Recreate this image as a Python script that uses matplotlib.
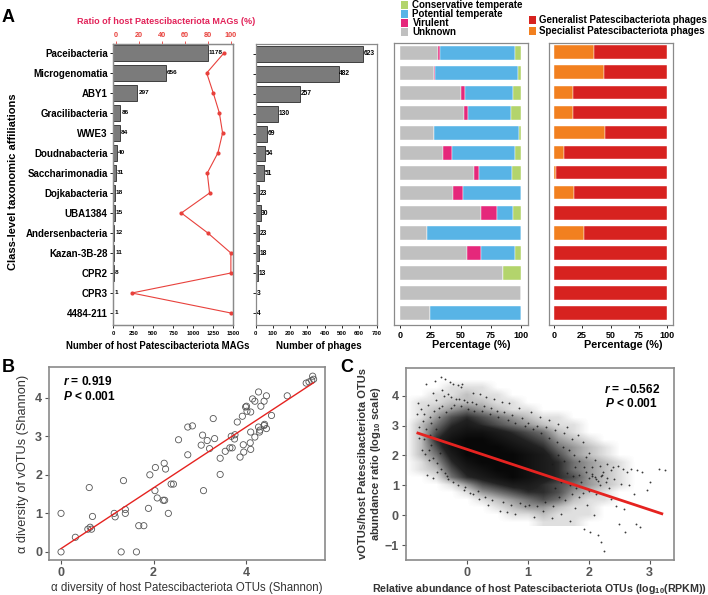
import numpy as np
import matplotlib
matplotlib.use('Agg')
import matplotlib.pyplot as plt
from matplotlib.patches import Rectangle
from matplotlib.colors import LinearSegmentedColormap

plt.rcParams['font.family'] = ['Liberation Sans', 'DejaVu Sans']
plt.rcParams['mathtext.fontset'] = 'custom'
plt.rcParams['mathtext.rm'] = 'Liberation Sans:bold'
plt.rcParams['mathtext.it'] = 'Liberation Sans:italic:bold'
plt.rcParams['mathtext.bf'] = 'Liberation Sans:bold'

# ---------------- data: panel A ----------------
categories = ['Paceibacteria', 'Microgenomatia', 'ABY1', 'Gracilibacteria', 'WWE3',
              'Doudnabacteria', 'Saccharimonadia', 'Dojkabacteria', 'UBA1384',
              'Andersenbacteria', 'Kazan-3B-28', 'CPR2', 'CPR3', '4484-211']
host_mags = [1178, 656, 297, 86, 84, 40, 31, 18, 15, 12, 11, 8, 1, 1]
host_ratio = [94, 79, 84.7, 90, 92.8, 88.7, 79.5, 81.5, 57, 80, 100, 100, 14, 100]
n_phages = [623, 482, 257, 130, 69, 54, 51, 23, 30, 23, 18, 13, 3, 4]
pct_unknown = [31.5, 27.9, 50.6, 53.0, 27.6, 35.4, 61.0, 43.6, 66.9, 21.8, 55.5, 84.8, 100, 24.9]
pct_virulent = [1.4, 0.6, 2.7, 3.0, 0.0, 7.4, 4.0, 8.6, 13.2, 0.0, 11.4, 0.0, 0.0, 0.0]
pct_potential = [62.1, 68.7, 40.1, 35.7, 71.0, 52.0, 27.5, 47.8, 13.3, 78.2, 27.9, 0.0, 0.0, 75.1]
pct_conservative = [5.0, 2.8, 6.6, 8.3, 1.4, 5.2, 7.5, 0.0, 6.6, 0.0, 5.2, 15.2, 0.0, 0.0]
pct_specialist = [35.8, 44.0, 17.0, 17.0, 45.2, 9.4, 2.0, 17.6, 0.0, 26.4, 0.0, 0.0, 0.0, 0.0]
pct_generalist = [100 - v for v in pct_specialist]

# ---------------- data: panel B ----------------
b_points = [(0, 1.0), (0, 0), (0.31, 0.38), (0.58, 0.59), (0.63, 0.64), (0.66, 0.59),
            (0.61, 1.67), (0.68, 0.92), (1.15, 1.0), (1.17, 0.91), (1.35, 1.85),
            (1.39, 1.1), (1.39, 1.0), (1.30, 0), (1.63, 0), (1.68, 0.68), (1.79, 0.68),
            (1.89, 1.13), (1.92, 2.0), (2.04, 2.19), (2.03, 1.59), (2.08, 1.40),
            (2.21, 1.34), (2.24, 1.34), (2.23, 2.30), (2.26, 2.15), (2.32, 1.0),
            (2.38, 1.76), (2.43, 1.76), (2.54, 2.91), (2.74, 2.52), (2.74, 3.24),
            (2.84, 3.27), (3.03, 2.77), (3.06, 3.03), (3.08, 1.59), (3.16, 2.89),
            (3.21, 2.68), (3.29, 3.46), (3.32, 2.94), (3.44, 2.43), (3.44, 2.01),
            (3.55, 2.61), (3.65, 2.70), (3.70, 2.70), (3.68, 3.0), (3.75, 2.93),
            (3.76, 3.04), (3.81, 3.37), (3.87, 2.46), (3.92, 3.52), (3.94, 2.78),
            (3.95, 2.59), (3.99, 3.76), (4.01, 3.78), (4.02, 3.65), (4.10, 3.63),
            (4.10, 3.11), (4.09, 2.83), (4.10, 2.66), (4.14, 3.97), (4.19, 3.91),
            (4.19, 2.98), (4.27, 4.15), (4.27, 3.24), (4.29, 3.11), (4.30, 3.16),
            (4.32, 3.78), (4.39, 3.91), (4.40, 3.31), (4.39, 3.28), (4.44, 4.05),
            (4.44, 3.20), (4.55, 3.54), (4.89, 4.05), (5.30, 4.38), (5.36, 4.41),
            (5.42, 4.45), (5.44, 4.56), (5.46, 4.48)]
b_r_text = '0.919'
b_p_text = '< 0.001'

# ---------------- data: panel C ----------------
# estimated point density of the dense cloud (0 = empty ... 9 = saturated)
c_grid_x = [-1.0, -0.75, -0.5, -0.25, 0, 0.25, 0.5, 0.75, 1.0, 1.25, 1.5, 1.75, 2.0, 2.25,
            2.5, 2.75, 3.0]
c_grid_y = [4.5, 4.25, 4.0, 3.75, 3.5, 3.25, 3.0, 2.75, 2.5, 2.25, 2.0, 1.75, 1.5, 1.25,
            1.0, 0.75, 0.5, 0.25, 0.0, -0.25]
c_density = ['00000000000000000',
             '00011100000000000',
             '00112110000000000',
             '01122211000000000',
             '01234321100000000',
             '01356543211000000',
             '02467654321100000',
             '02578876542100000',
             '02689987653210000',
             '02589998764321000',
             '02479999875321000',
             '01368999876432100',
             '01257899876432100',
             '00146789876532100',
             '00013567765432100',
             '00001345665321000',
             '00000123454211000',
             '00000012332110000',
             '00000001121110000',
             '00000000011100000']
c_points = [(-0.82, 3.40), (-0.80, 3.75), (-0.78, 2.95), (-0.75, 3.55), (-0.72, 3.15),
            (-0.70, 2.55), (-0.68, 2.05), (-0.66, 4.38), (-0.64, 3.70), (-0.62, 1.85),
            (-0.60, 3.30), (-0.58, 2.35), (-0.55, 4.10), (-0.52, 4.49), (-0.50, 3.85),
            (-0.48, 1.45), (-0.45, 3.60), (-0.42, 4.63), (-0.40, 4.20), (-0.38, 4.00),
            (-0.35, 4.55), (-0.33, 1.30), (-0.30, 4.05), (-0.28, 4.45), (-0.25, 3.95),
            (-0.22, 4.40), (-0.18, 3.90), (-0.15, 4.35), (-0.12, 3.88), (-0.10, 4.30),
            (-0.08, 4.38), (-0.05, 3.85), (-0.02, 0.95), (0.00, 3.80), (0.05, 0.75),
            (0.08, 3.78), (0.10, 4.10), (0.15, 3.72), (0.20, 0.55), (0.22, 4.05),
            (0.28, 3.65), (0.32, 3.95), (0.35, 0.35), (0.40, 3.60), (0.45, 3.90),
            (0.50, 3.50), (0.55, 0.15), (0.58, 3.80), (0.62, 3.45), (0.66, 0.10),
            (0.70, 3.75), (0.75, 3.35), (0.80, 0.05), (0.85, 3.60), (0.90, 3.25),
            (0.95, 0.30), (1.00, 3.10), (1.05, 3.45), (1.10, -0.05), (1.15, 3.00),
            (1.20, 3.30), (1.25, 0.15), (1.30, 2.95), (1.35, 3.20), (1.40, -0.10),
            (1.45, 2.85), (1.50, 3.05), (1.55, 0.05), (1.60, 2.75), (1.65, 2.95),
            (1.70, -0.20), (1.72, 2.55), (1.78, 0.25), (1.82, 2.70), (1.85, 0.60),
            (1.90, 2.45), (1.92, -0.45), (1.95, 1.95), (1.98, 0.35), (2.00, 2.10),
            (2.02, -0.55), (2.05, 1.30), (2.08, 0.00), (2.10, 1.85), (2.12, 1.20),
            (2.15, -0.65), (2.18, 1.65), (2.20, -0.90), (2.22, 1.35), (2.25, -1.20),
            (2.28, 1.10), (2.30, 1.70), (2.33, 0.90), (2.36, 0.55), (2.40, 1.60),
            (2.42, 1.20), (2.45, 0.30), (2.48, 1.65), (2.50, -0.30), (2.53, 1.05),
            (2.56, 1.55), (2.58, 0.20), (2.60, -0.55), (2.63, 1.45), (2.66, 1.00),
            (2.70, 1.55), (2.74, 0.70), (2.78, -0.30), (2.80, 1.50), (2.85, -0.40),
            (2.88, 1.45), (2.95, 0.85), (3.00, 1.10), (3.15, 1.55), (3.25, 1.50),
            (2.00, 1.25), (2.05, 1.38), (2.10, 1.28), (2.15, 1.15), (2.20, 1.30),
            (-0.55, 1.25), (-0.65, 1.35),
            (-0.78, 2.60), (-0.74, 2.20), (-0.70, 3.40), (-0.66, 2.90), (-0.62, 2.20),
            (-0.60, 2.70), (-0.58, 3.10), (-0.56, 1.90), (-0.54, 3.50), (-0.50, 2.90),
            (-0.48, 1.75), (-0.46, 3.30), (-0.44, 2.10), (-0.42, 1.55), (-0.40, 3.65),
            (-0.36, 1.40), (-0.34, 3.45), (-0.30, 1.20), (-0.26, 3.60), (-0.22, 1.10),
            (-0.20, 3.70), (-0.14, 1.00), (-0.10, 3.65), (-0.04, 0.85), (0.02, 3.55),
            (0.10, 0.70), (0.12, 3.50), (0.18, 0.80), (0.25, 3.50), (0.30, 0.60),
            (0.38, 3.40), (0.42, 0.50), (0.52, 3.30), (0.60, 0.45), (0.68, 3.20),
            (0.72, 0.35), (0.80, 3.10), (0.88, 0.40), (0.95, 3.00), (1.02, 0.35),
            (1.08, 2.90), (1.15, 0.30), (1.22, 2.75), (1.28, 0.45), (1.35, 2.60),
            (1.42, 0.30), (1.48, 2.45), (1.52, 0.60), (1.58, 2.30), (1.62, 0.50),
            (1.68, 2.20), (1.72, 0.70), (1.76, 2.00), (1.80, 0.90), (1.84, 1.80),
            (1.88, 1.10), (1.92, 1.60), (1.96, 1.45), (2.00, 0.80), (2.06, 1.60),
            (2.12, 0.70), (2.18, 1.00), (2.24, 1.45), (2.30, 1.25), (2.36, 1.50),
            (1.45, 0.90), (1.55, 1.10), (1.65, 1.40), (1.70, 1.00), (1.78, 1.60),
            (1.60, 1.80), (1.50, 2.00), (1.40, 1.70), (1.75, 1.30), (1.85, 1.35),
            (1.90, 0.75)]
c_fit_x = [-0.8, 3.2]
c_fit_y = [2.75, 0.05]
c_r_text = '\u22120.562'
c_p_text = '< 0.001'

# ---------------- colours ----------------
BAR_GREY = '#7b7b7b'
COL_CONS = '#B3D46C'
COL_POT = '#58B4E6'
COL_VIR = '#E5287B'
COL_UNK = '#C0C0C0'
COL_GEN = '#D7221F'
COL_SPE = '#F2801F'
RED = '#E8413C'
SPINE = '#8a8a8a'

W, H = 708, 595
fig = plt.figure(figsize=(W / 100, H / 100), dpi=100)


def rect(x0, y0, x1, y1):
    return [x0 / W, 1 - y1 / H, (x1 - x0) / W, (y1 - y0) / H]


def ftext(x, y, s, **kw):
    return fig.text(x / W, 1 - y / H, s, **kw)


def style_spines(ax, color=SPINE, lw=0.9):
    for s in ax.spines.values():
        s.set_color(color)
        s.set_linewidth(lw)


idx = np.arange(len(categories))
ylim_a = (13.6, -0.475)

# ---- A1: host MAGs + ratio ----
ax1 = fig.add_axes(rect(113.3, 43.5, 233.3, 325))
ax1.barh(idx, host_mags, height=0.8, color=BAR_GREY, edgecolor='#2b2b2b', linewidth=0.6)
for i, v in enumerate(host_mags):
    ax1.text(v + 15, i, str(v), va='center', ha='left', fontsize=4.6, fontweight='bold')
ax1.set_xlim(0, 1500)
ax1.set_ylim(*ylim_a)
ax1.set_xticks([0, 250, 500, 750, 1000, 1250, 1500])
ax1.set_yticks(idx)
ax1.set_yticklabels(categories, fontsize=7, fontweight='bold')
ax1.tick_params(axis='x', labelsize=4.2, length=2, pad=2, width=0.6)
ax1.tick_params(axis='y', length=2, pad=2, width=0.6)
for lab in ax1.get_xticklabels():
    lab.set_fontweight('bold')
style_spines(ax1)
ftext(158, 346, 'Number of host Patescibacteriota MAGs', fontsize=6.9, fontweight='bold',
      ha='center', va='center')

ax1t = ax1.twiny()
ax1t.plot(host_ratio, idx, color=RED, marker='o', markersize=3, linewidth=0.8,
          markeredgewidth=0)
ax1t.set_xlim(-2.1, 102.1)
ax1t.set_ylim(*ylim_a)
ax1t.set_xticks([0, 20, 40, 60, 80, 100])
ax1t.tick_params(axis='x', colors=RED, labelsize=5.2, length=2, pad=1.5, width=0.6)
for lab in ax1t.get_xticklabels():
    lab.set_fontweight('bold')
style_spines(ax1t)
ftext(166, 22, 'Ratio of host Patescibacteriota MAGs (%)', color='#E2245A', fontsize=6.5,
      fontweight='bold', ha='center', va='center')

# ---- A2: phages ----
ax2 = fig.add_axes(rect(255.5, 44.3, 376.5, 325))
ax2.barh(idx, n_phages, height=0.8, color=BAR_GREY, edgecolor='#2b2b2b', linewidth=0.6)
for i, v in enumerate(n_phages):
    ax2.text(v + 3, i, str(v), va='center', ha='left', fontsize=4.8, fontweight='bold')
ax2.set_xlim(0, 700)
ax2.set_ylim(*ylim_a)
ax2.set_xticks([0, 100, 200, 300, 400, 500, 600, 700])
ax2.set_yticks(idx)
ax2.set_yticklabels([])
ax2.tick_params(axis='x', labelsize=4.2, length=2, pad=2, width=0.6)
ax2.tick_params(axis='y', length=2, width=0.6)
for lab in ax2.get_xticklabels():
    lab.set_fontweight('bold')
style_spines(ax2)
ftext(319, 346, 'Number of phages', fontsize=7, fontweight='bold', ha='center', va='center')

# ---- A3: lifestyle composition ----
ax3 = fig.add_axes(rect(394, 43.3, 527.7, 325))
left = np.zeros(len(categories))
for vals, col in [(pct_unknown, COL_UNK), (pct_virulent, COL_VIR),
                  (pct_potential, COL_POT), (pct_conservative, COL_CONS)]:
    ax3.barh(idx, vals, left=left, height=0.68, color=col, edgecolor='white', linewidth=0.3)
    left = left + np.array(vals)
ax3.set_xlim(-5.2, 105.5)
ax3.set_ylim(*ylim_a)
ax3.set_yticks([])
ax3.set_xticks([0, 25, 50, 75, 100])
ax3.tick_params(axis='x', labelsize=6.5, length=2, pad=2, width=0.6)
for lab in ax3.get_xticklabels():
    lab.set_fontweight('bold')
style_spines(ax3)
ftext(471, 345, 'Percentage (%)', fontsize=7.8, fontweight='bold', ha='center', va='center')

# ---- A4: generalist / specialist ----
ax4 = fig.add_axes(rect(548.7, 42.7, 672.7, 325))
ax4.barh(idx, pct_specialist, height=0.68, color=COL_SPE, edgecolor='white', linewidth=0.3)
ax4.barh(idx, pct_generalist, left=pct_specialist, height=0.68, color=COL_GEN,
         edgecolor='white', linewidth=0.3)
ax4.set_xlim(-4.4, 104.7)
ax4.set_ylim(*ylim_a)
ax4.set_yticks([])
ax4.set_xticks([0, 25, 50, 75, 100])
ax4.tick_params(axis='x', labelsize=6.5, length=2, pad=2, width=0.6)
for lab in ax4.get_xticklabels():
    lab.set_fontweight('bold')
style_spines(ax4)
ftext(623, 345, 'Percentage (%)', fontsize=7.8, fontweight='bold', ha='center', va='center')


# legends (drawn in figure pixels)
def legend_entry(x_sq, x_txt, y, color, label):
    fig.patches.append(Rectangle((x_sq / W, 1 - (y + 3.6) / H), 7.2 / W, 7.2 / H,
                                 transform=fig.transFigure, facecolor=color,
                                 edgecolor='none'))
    ftext(x_txt, y, label, fontsize=7, fontweight='bold', va='center', ha='left')


for y, col, lab in [(5, COL_CONS, 'Conservative temperate'), (14, COL_POT, 'Potential temperate'),
                    (23, COL_VIR, 'Virulent'), (32, COL_UNK, 'Unknown')]:
    legend_entry(401, 412.5, y, col, lab)
for y, col, lab in [(20, COL_GEN, 'Generalist Patescibacteriota phages'),
                    (31, COL_SPE, 'Specialist Patescibacteriota phages')]:
    legend_entry(528.5, 539, y, col, lab)

ftext(12.7, 182, 'Class-level taxonomic affiliations', rotation=90,
      fontsize=8, fontweight='bold', ha='center', va='center')

# ---- B ----
axb = fig.add_axes(rect(49, 367.3, 324.7, 560))
bx = np.array([p[0] for p in b_points])
by = np.array([p[1] for p in b_points])
axb.scatter(bx, by, s=20, facecolors='none', edgecolors='#555555', linewidths=0.6, zorder=2)
coef = np.polyfit(bx, by, 1)
xfit = np.array([bx.min(), bx.max()])
axb.plot(xfit, np.polyval(coef, xfit), color='#E52320', linewidth=1.0, zorder=3)
axb.set_xlim(-0.26, 5.70)
axb.set_ylim(-0.21, 4.79)
axb.set_xticks([0, 2, 4])
axb.set_yticks([0, 1, 2, 3, 4])
axb.tick_params(labelsize=9, colors='#555555', length=3, width=0.8, pad=2)
for lab in axb.get_xticklabels() + axb.get_yticklabels():
    lab.set_fontweight('bold')
axb.set_xlabel('\u03b1 diversity of host Patescibacteriota OTUs (Shannon)', fontsize=8.3,
               color='#333333', labelpad=2)
axb.set_ylabel('\u03b1 diversity of vOTUs (Shannon)', fontsize=9.2, color='#333333', labelpad=4)
axb.text(0.052, 0.888, r'$r$ = ' + b_r_text + '\n' + r'$P$ ' + b_p_text,
         transform=axb.transAxes, fontsize=8.6, fontweight='bold', va='center', ha='left',
         linespacing=1.15)
style_spines(axb, lw=1.2)

# ---- C ----
axc = fig.add_axes(rect(405.7, 367.7, 674, 560))
dens = np.array([[int(ch) for ch in row] for row in c_density], dtype=float)
dx = c_grid_x[1] - c_grid_x[0]
dy = c_grid_y[0] - c_grid_y[1]
cmap = LinearSegmentedColormap.from_list(
    'dens', [(0, '#ffffff'), (0.22, '#c0c0c0'), (0.45, '#707070'), (0.7, '#222222'),
             (1, '#080808')])
axc.imshow(dens, extent=[c_grid_x[0] - dx / 2, c_grid_x[-1] + dx / 2,
                         c_grid_y[-1] - dy / 2, c_grid_y[0] + dy / 2],
           origin='upper', cmap=cmap, vmin=0, vmax=9, interpolation='bilinear',
           aspect='auto', zorder=1)
cx = [p[0] for p in c_points]
cy = [p[1] for p in c_points]
axc.scatter(cx, cy, s=1.8, color='#1a1a1a', alpha=0.85, linewidths=0, zorder=2)
axc.plot(c_fit_x, c_fit_y, color='#E52320', linewidth=2.0, zorder=3)
axc.set_xlim(-1.0, 3.40)
axc.set_ylim(-1.5, 4.94)
axc.set_xticks([0, 1, 2, 3])
axc.set_yticks([-1, 0, 1, 2, 3, 4])
axc.tick_params(labelsize=9, colors='#555555', length=3, width=0.8, pad=2)
for lab in axc.get_xticklabels() + axc.get_yticklabels():
    lab.set_fontweight('bold')
axc.set_xlabel(r'Relative abundance of host Patescibacteriota OTUs (log$_{10}$(RPKM))',
               fontsize=7.7, fontweight='bold', color='#333333', labelpad=2)
axc.set_ylabel('vOTUs/host Patescibacteriota OTUs\n' + r'abundance ratio (log$_{10}$ scale)',
               fontsize=8, fontweight='bold', color='#333333', labelpad=1, linespacing=1.15)
axc.text(0.843, 0.851, r'$r$ = ' + c_r_text + '\n' + r'$P$ ' + c_p_text,
         transform=axc.transAxes, fontsize=8.6, fontweight='bold', va='center', ha='center',
         multialignment='center', linespacing=1.15)
style_spines(axc, lw=1.2)

# panel letters
ftext(8, 17, 'A', fontsize=13, fontweight='bold', ha='center', va='center')
ftext(8, 368, 'B', fontsize=13, fontweight='bold', ha='center', va='center')
ftext(347, 368, 'C', fontsize=13, fontweight='bold', ha='center', va='center')

fig.savefig('out.png', dpi=100)
